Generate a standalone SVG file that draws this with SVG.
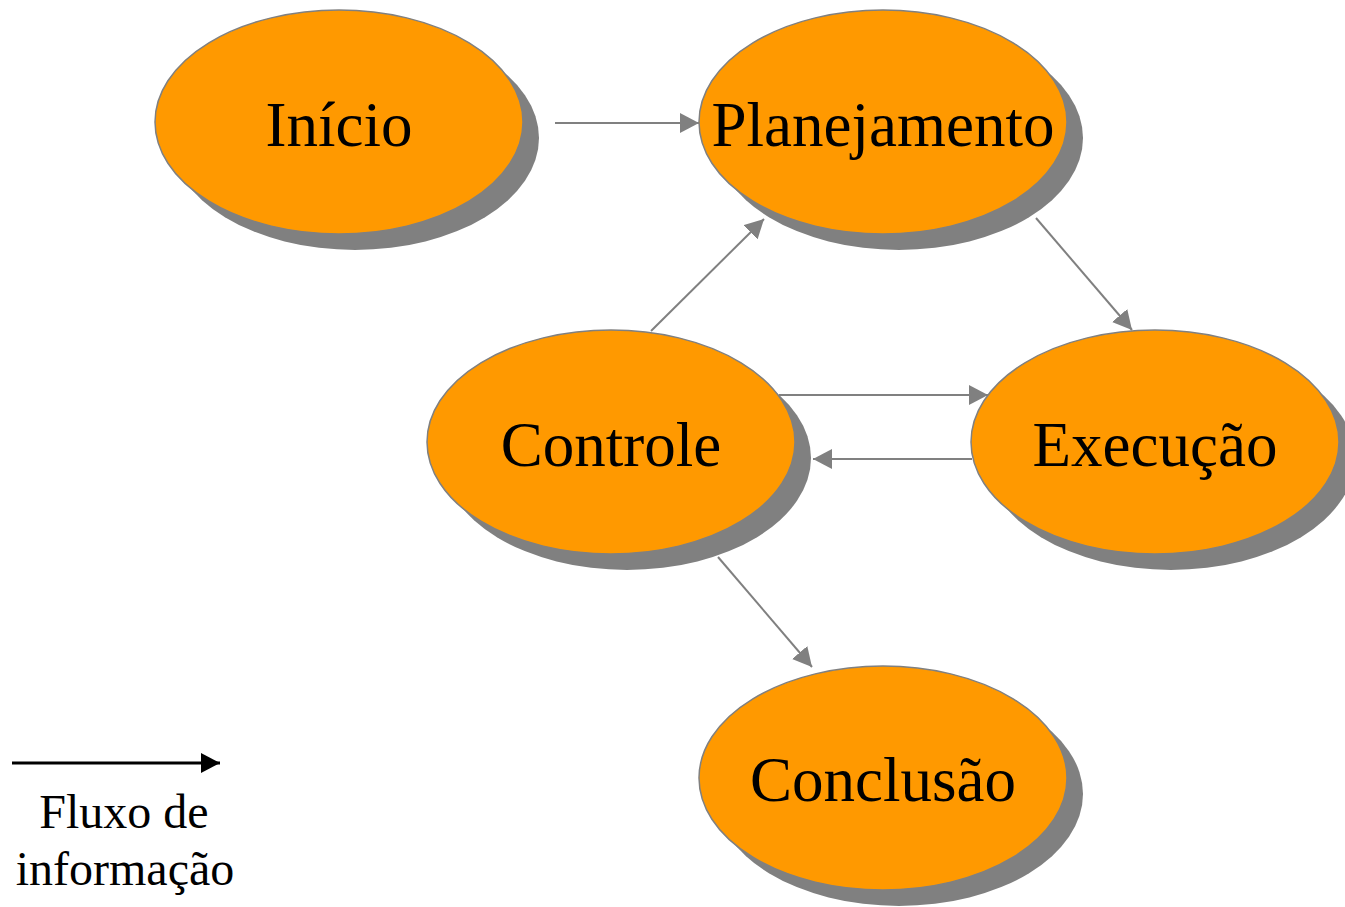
<svg xmlns="http://www.w3.org/2000/svg" width="1345" height="907" viewBox="0 0 1345 907">
<defs>
<style>
.shadow{fill:#808080;}
.node{fill:#FF9900;stroke:#808080;stroke-width:1.5;}
.lbl{font-family:"Liberation Serif","Times New Roman",serif;font-size:63px;fill:#000;text-anchor:middle;}
.conn{stroke:#808080;stroke-width:2;fill:none;marker-end:url(#ah);}
.legtxt{font-family:"Liberation Serif","Times New Roman",serif;font-size:48px;fill:#000;text-anchor:middle;}
</style>
<marker id="ah" markerWidth="20" markerHeight="20" refX="19" refY="10" orient="auto" markerUnits="userSpaceOnUse">
<path d="M0,0 L19,10 L0,20 Z" fill="#808080"/>
</marker>
<marker id="ahb" markerWidth="20" markerHeight="20" refX="19" refY="10" orient="auto" markerUnits="userSpaceOnUse">
<path d="M0,0 L19,10 L0,20 Z" fill="#000"/>
</marker>
</defs>
<rect width="1345" height="907" fill="#fff"/>
<g id="node-inicio">
<ellipse class="shadow" cx="355" cy="138" rx="184" ry="112"/>
<ellipse class="node" cx="339" cy="122" rx="184" ry="112"/>
<text class="lbl" x="339" y="146">Início</text>
</g>
<g id="node-planejamento">
<ellipse class="shadow" cx="899" cy="138" rx="184" ry="112"/>
<ellipse class="node" cx="883" cy="122" rx="184" ry="112"/>
<text class="lbl" x="883" y="146">Planejamento</text>
</g>
<g id="node-controle">
<ellipse class="shadow" cx="627" cy="458" rx="184" ry="112"/>
<ellipse class="node" cx="611" cy="442" rx="184" ry="112"/>
<text class="lbl" x="611" y="466">Controle</text>
</g>
<g id="node-execucao">
<ellipse class="shadow" cx="1171" cy="458" rx="184" ry="112"/>
<ellipse class="node" cx="1155" cy="442" rx="184" ry="112"/>
<text class="lbl" x="1155" y="466">Execução</text>
</g>
<g id="node-conclusao">
<ellipse class="shadow" cx="899" cy="794" rx="184" ry="112"/>
<ellipse class="node" cx="883" cy="778" rx="184" ry="112"/>
<text class="lbl" x="883" y="801">Conclusão</text>
</g>
<g id="connectors">
<line class="conn" x1="555" y1="123" x2="699" y2="123"/>
<line class="conn" x1="651" y1="331" x2="764" y2="219"/>
<line class="conn" x1="1036" y1="218" x2="1132" y2="330"/>
<line class="conn" x1="779" y1="395" x2="988" y2="395"/>
<line class="conn" x1="972" y1="459" x2="813" y2="459"/>
<line class="conn" x1="718" y1="557" x2="812" y2="667"/>
</g>
<g id="legend">
<line x1="12" y1="763" x2="220" y2="763" stroke="#000" stroke-width="3" marker-end="url(#ahb)"/>
<text class="legtxt" x="124" y="828">Fluxo de</text>
<text class="legtxt" x="125" y="885">informação</text>
</g>
</svg>
